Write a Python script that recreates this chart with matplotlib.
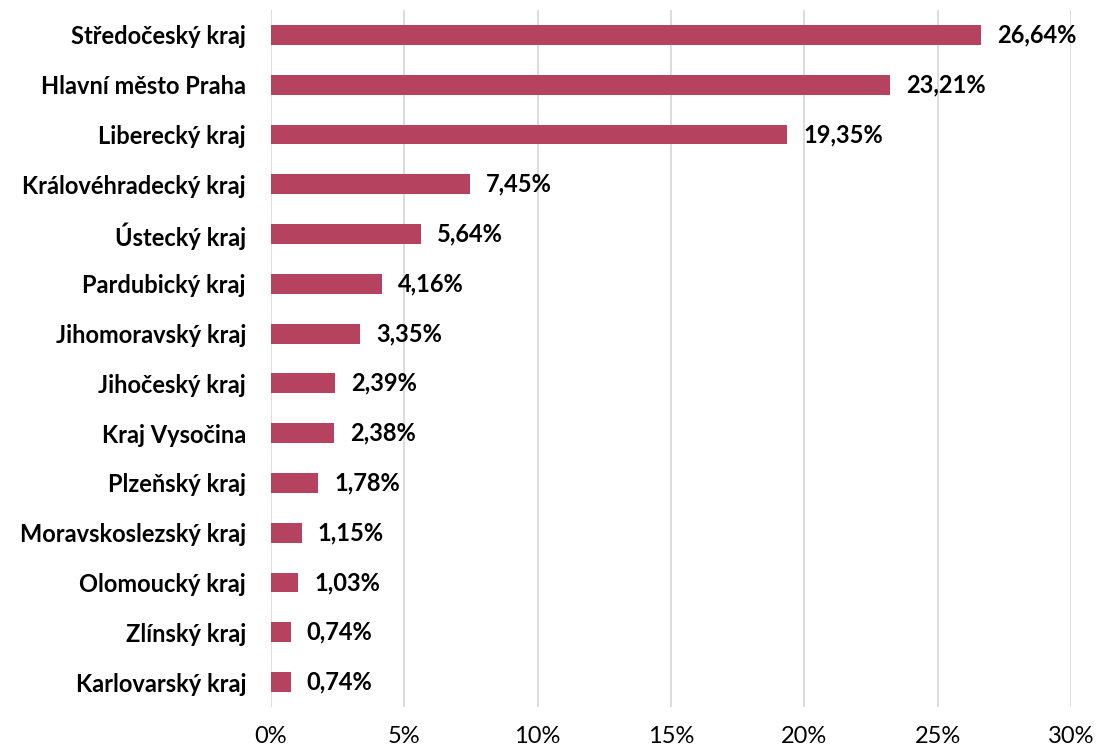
import matplotlib
matplotlib.use('Agg')
import matplotlib.pyplot as plt
from matplotlib.ticker import FuncFormatter

# podíl krajů
kraje = ['Středočeský kraj', 'Hlavní město Praha', 'Liberecký kraj', 'Královéhradecký kraj',
         'Ústecký kraj', 'Pardubický kraj', 'Jihomoravský kraj', 'Jihočeský kraj',
         'Kraj Vysočina', 'Plzeňský kraj', 'Moravskoslezský kraj', 'Olomoucký kraj',
         'Zlínský kraj', 'Karlovarský kraj']
podil = [26.64, 23.21, 19.35, 7.45, 5.64, 4.16, 3.35, 2.39, 2.38, 1.78, 1.15, 1.03, 0.74, 0.74]
xticks = [0, 5, 10, 15, 20, 25, 30]

plt.rcParams['font.family'] = ['Lato', 'DejaVu Sans']

fig = plt.figure(figsize=(10.99, 7.52), dpi=100)
ax = fig.add_axes([271/1099, 1 - 707/752, 800/1099, 697/752])

pos = list(range(len(kraje)))
ax.barh(pos, podil, height=0.4, color='#B5425E', zorder=3)
for y, v in zip(pos, podil):
    ax.text(v + 0.6, y, '{:.2f}%'.format(v).replace('.', ','), va='center', ha='left',
            fontsize=17, fontweight='bold', color='black')

ax.set_yticks(pos)
ax.set_yticklabels(kraje, fontsize=17, fontweight='bold')
ax.set_ylim(len(kraje) - 0.5, -0.5)
ax.set_xlim(0, 30)
ax.set_xticks(xticks)
ax.xaxis.set_major_formatter(FuncFormatter(lambda x, p: '{:.0f}%'.format(x)))
ax.tick_params(axis='x', labelsize=17, length=0, pad=14)
ax.tick_params(axis='y', length=0, pad=18)
ax.grid(axis='x', color='#D9D9D9', linewidth=1.3, zorder=0)
for s in ax.spines.values():
    s.set_visible(False)

fig.savefig('out.png', dpi=100)
